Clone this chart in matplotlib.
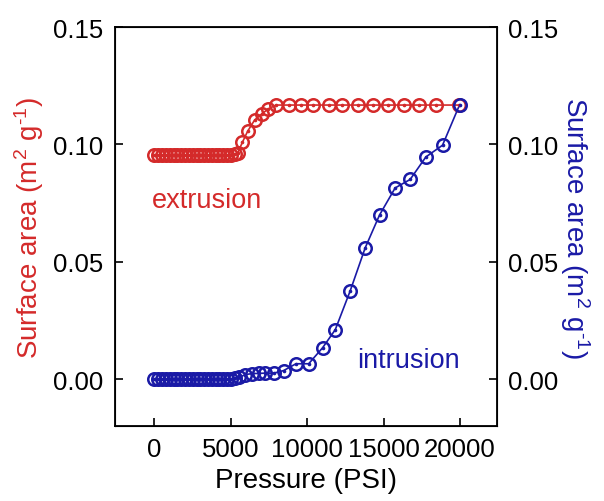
import numpy as np
import matplotlib.pyplot as plt

plt.rcParams['font.family'] = ['Liberation Sans', 'DejaVu Sans']
plt.rcParams['mathtext.fontset'] = 'custom'
plt.rcParams['mathtext.rm'] = 'Liberation Sans'
plt.rcParams['mathtext.it'] = 'Liberation Sans'

# extrusion (red)
ext_p = [0, 250, 500, 750, 1000, 1250, 1500, 1750, 2000, 2250, 2500, 2750, 3000,
         3250, 3500, 3750, 4000, 4250, 4500, 4750, 5000, 5250, 5450,
         5750, 6100, 6550, 7050, 7450, 7950, 8800, 9600, 10400, 11400, 12300,
         13300, 14300, 15250, 16300, 17300, 18450, 19950]
ext_s = [0.0955, 0.0955, 0.0955, 0.0955, 0.0955, 0.0955, 0.0955, 0.0955, 0.0955,
         0.0955, 0.0955, 0.0955, 0.0955, 0.0955, 0.0955, 0.0955, 0.0955, 0.0955,
         0.0955, 0.0955, 0.0956, 0.0958, 0.0965,
         0.1009, 0.1057, 0.1104, 0.1132, 0.1151, 0.1168, 0.1168, 0.1168, 0.1168,
         0.1168, 0.1168, 0.1168, 0.1168, 0.1168, 0.1168, 0.1168, 0.1168, 0.1168]

# intrusion (blue)
int_p = [0, 250, 500, 750, 1000, 1250, 1500, 1750, 2000, 2250, 2500, 2750, 3000,
         3250, 3500, 3750, 4000, 4250, 4500, 4750, 5000, 5250, 5550,
         5950, 6380, 6820, 7250, 7800, 8450, 9260, 10090, 11000, 11830, 12810,
         13790, 14730, 15750, 16730, 17760, 18850, 19960]
int_s = [0.0, 0.0, 0.0, 0.0, 0.0, 0.0, 0.0, 0.0, 0.0, 0.0, 0.0, 0.0, 0.0,
         0.0, 0.0, 0.0, 0.0, 0.0, 0.0, 0.0, 0.0002, 0.0004, 0.0008,
         0.0020, 0.0024, 0.0025, 0.0026, 0.0026, 0.0037, 0.0066, 0.0066, 0.0134,
         0.0211, 0.0377, 0.0560, 0.0700, 0.0815, 0.0851, 0.0947, 0.0997, 0.1168]

red = '#d42a2a'
blue = '#1a1aa6'
ylab = 'Surface area (m$^{2}$ g$^{\\text{-1}}$)'

fig = plt.figure(figsize=(6.04, 5.02), dpi=100)
ax = fig.add_axes([0.19, 0.149, 0.633, 0.795])

ax.plot(ext_p, ext_s, '-', color=red, lw=1.2, marker='o', ms=9,
        mfc='none', mec=red, mew=1.8, zorder=3)
ax.plot(ext_p, ext_s, 'o', color=red, ms=1.6, zorder=4)
ax.plot(int_p, int_s, '-', color=blue, lw=1.2, marker='o', ms=9,
        mfc='none', mec=blue, mew=1.8, zorder=3)
ax.plot(int_p, int_s, 'o', color=blue, ms=1.6, zorder=4)

ax.set_xlim(-2600, 22420)
ax.set_ylim(-0.02, 0.15)
ax.set_xticks([0, 5000, 10000, 15000, 20000])
ax.set_yticks([0.0, 0.05, 0.10, 0.15])
ax.set_yticklabels(['0.00', '0.05', '0.10', '0.15'])
ax.tick_params(direction='in', length=6, width=1.2, labelsize=18.5, pad=8)
for s in ax.spines.values():
    s.set_linewidth(1.3)

ax.set_xlabel('Pressure (PSI)', fontsize=20, labelpad=4)
ax.set_ylabel(ylab, fontsize=20, color=red, labelpad=5)

ax2 = ax.twinx()
ax2.set_ylim(-0.02, 0.15)
ax2.set_yticks([0.0, 0.05, 0.10, 0.15])
ax2.set_yticklabels(['0.00', '0.05', '0.10', '0.15'])
ax2.tick_params(direction='in', length=6, width=1.2, labelsize=18.5, pad=8)
ax2.set_ylabel(ylab, fontsize=20, color=blue, rotation=270, labelpad=24)

ax.text(-150, 0.0733, 'extrusion', color=red, fontsize=19.5, va='baseline', ha='left')
ax.text(13260, 0.0051, 'intrusion', color=blue, fontsize=19.5, va='baseline', ha='left')

fig.savefig('out.png', dpi=100)
